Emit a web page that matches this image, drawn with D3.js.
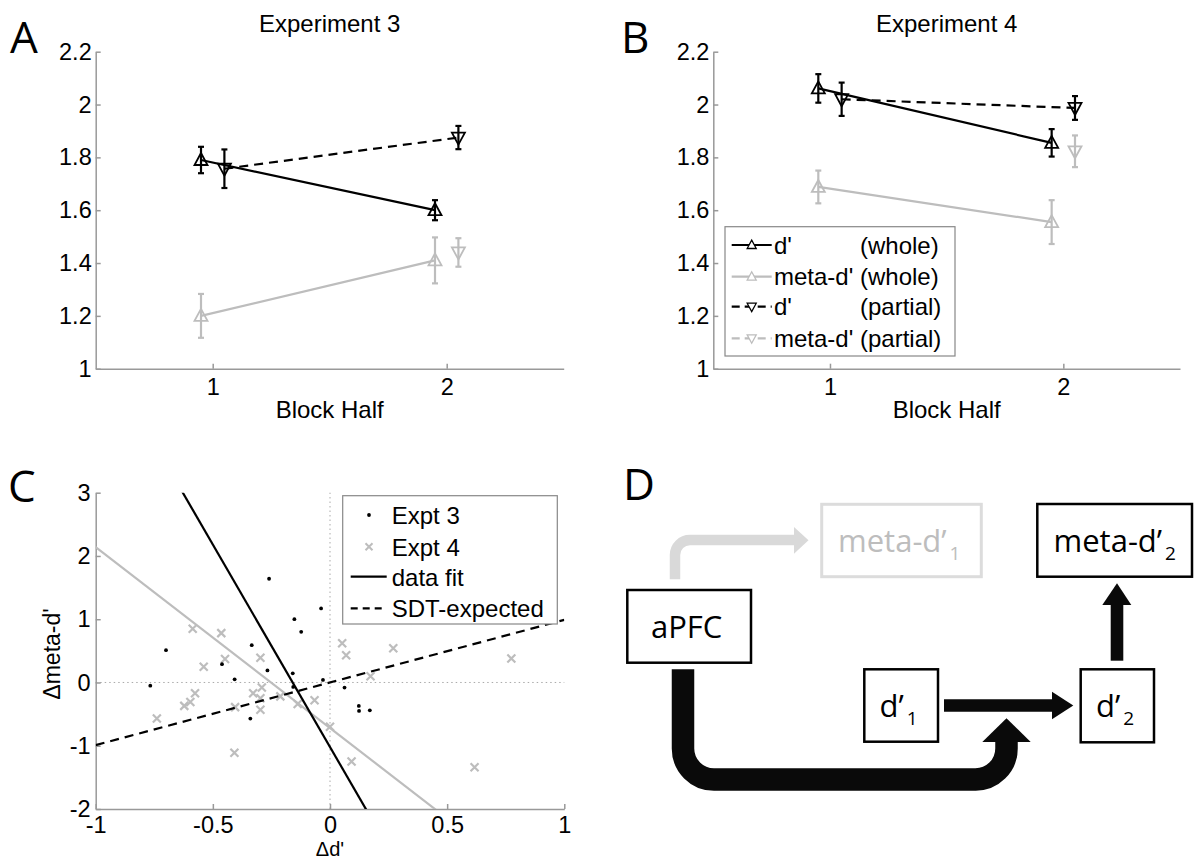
<!DOCTYPE html>
<html>
<head>
<meta charset="utf-8">
<script src="https://cdn.jsdelivr.net/npm/d3@7"></script>
<style>
  html, body { margin: 0; padding: 0; background: #fff; }
  svg { display: block; }
  .ax text { font-family: "Liberation Sans", Arial, sans-serif; font-size: 23.5px; fill: #000; }
  .ax path, .ax line { stroke: #999; stroke-width: 1.5; }
</style>
</head>
<body>
<script>
// ---------- Panels A & B: d' and meta-d' by block half ----------
const blockHalves = [1, 2];
const blockTicks = [1, 2];
const dprimeTicks = [1, 1.2, 1.4, 1.6, 1.8, 2, 2.2];

// Experiment 3
const exp3DWhole = [1.79, 1.60];
const exp3DWholeSE = [0.05, 0.038];
const exp3MetaWhole = [1.20, 1.41];
const exp3MetaWholeSE = [0.083, 0.087];
const exp3DPartial = [1.757, 1.875];
const exp3DPartialSE = [0.073, 0.044];
const exp3MetaPartial = [null, 1.44];
const exp3MetaPartialSE = [null, 0.054];

// Experiment 4
const exp4DWhole = [2.061, 1.855];
const exp4DWholeSE = [0.054, 0.052];
const exp4MetaWhole = [1.688, 1.555];
const exp4MetaWholeSE = [0.062, 0.083];
const exp4DPartial = [2.02, 1.987];
const exp4DPartialSE = [0.063, 0.045];
const exp4MetaPartial = [null, 1.823];
const exp4MetaPartialSE = [null, 0.06];

const legendNamesB = ["d'", "meta-d'", "d'", "meta-d'"];
const legendConditionsB = ["(whole)", "(whole)", "(partial)", "(partial)"];

// ---------- Panel C: change in d' vs change in meta-d' ----------
const cTicksX = [-1, -0.5, 0, 0.5, 1];
const cTicksY = [-2, -1, 0, 1, 2, 3];
const expt3DeltaD    = [-0.767, -0.70, -0.461, -0.407, -0.334, -0.34, -0.267, -0.26, -0.159, -0.157, -0.152, -0.123, -0.038, -0.03, 0.062, 0.123, 0.124, 0.17];
const expt3DeltaMeta = [-0.05, 0.51, 0.29, 0.05, 0.59, -0.57, 0.19, 1.64, 0.145, -0.07, 1.00, 0.80, 1.17, 0.04, -0.08, -0.37, -0.45, -0.44];
const expt4DeltaD    = [-0.739, -0.622, -0.596, -0.576, -0.586, -0.539, -0.464, -0.448, -0.405, -0.408, -0.328, -0.297, -0.291, -0.297, -0.297, -0.212, -0.138, -0.066, 0.0, 0.052, 0.069, 0.27, 0.173, 0.774, 0.092, 0.617];
const expt4DeltaMeta = [-0.57, -0.37, -0.31, -0.17, 0.85, 0.25, 0.78, 0.37, -0.39, -1.11, -0.17, 0.39, -0.08, -0.25, -0.43, -0.22, -0.34, -0.28, -0.70, 0.62, 0.43, 0.54, 0.10, 0.38, -1.25, -1.34];
// regression lines: [intercept, slope]
const fitExpt3 = [-1.02, -6.4];
const fitExpt4 = [-0.72, -2.86];
const sdtExpected = [0.0, 0.99];
const legendLabelsC = ["Expt 3", "Expt 4", "data fit", "SDT-expected"];

// ---------- Panel D: schematic ----------
const nodeMain = ["aPFC", "meta-d’", "meta-d’", "d’", "d’"];
const nodeSub  = ["", "1", "2", "1", "2"];

const BLACK = "#000";
const GRAY = "#bdbdbd";
const AXIS_FONT = '"Liberation Sans", Arial, sans-serif';
const DIAG_FONT = '"Open Sans", "Noto Sans", sans-serif';
const LABEL_SIZE = 24;

const svg = d3.select("body").append("svg")
  .attr("width", 1194).attr("height", 860)
  .attr("viewBox", "0 0 1194 860");
svg.append("rect").attr("width", 1194).attr("height", 860).attr("fill", "#fff");

// panel letters
const panelLetters = [["A", 10, 53], ["B", 621, 53], ["C", 8, 502], ["D", 623, 500]];
svg.selectAll("text.panel-letter").data(panelLetters).join("text")
  .attr("class", "panel-letter")
  .attr("x", d => d[1]).attr("y", d => d[2])
  .attr("font-family", DIAG_FONT).attr("font-size", 44)
  .text(d => d[0]);

const upTri = "M0,-7L6.5,5L-6.5,5Z";
const downTri = "M0,7L6.5,-5L-6.5,-5Z";

function styleAxis(g) {
  g.attr("class", "ax");
  g.selectAll("text").attr("font-family", AXIS_FONT);
}

function drawBlockPanel(opts) {
  const g = svg.append("g");
  const x = d3.scaleLinear().domain([0.5, 2.5]).range([opts.left, opts.right]);
  const y = d3.scaleLinear().domain([1, 2.2]).range([368.7, 51.7]);

  g.append("g").attr("transform", `translate(0,${y(1)})`)
    .call(d3.axisBottom(x).tickValues(blockTicks).tickFormat(d => String(d))
      .tickSizeInner(-5).tickSizeOuter(0).tickPadding(10))
    .call(styleAxis);
  g.append("g").attr("transform", `translate(${x(0.5)},0)`)
    .call(d3.axisLeft(y).tickValues(dprimeTicks).tickFormat(d => String(d))
      .tickSizeInner(-5).tickSizeOuter(0).tickPadding(4))
    .call(styleAxis);

  g.append("text").attr("x", (opts.left + opts.right) / 2).attr("y", 32)
    .attr("text-anchor", "middle").attr("font-family", AXIS_FONT).attr("font-size", LABEL_SIZE)
    .text(opts.title);
  g.append("text").attr("x", (opts.left + opts.right) / 2).attr("y", 418)
    .attr("text-anchor", "middle").attr("font-family", AXIS_FONT).attr("font-size", LABEL_SIZE)
    .text("Block Half");

  opts.series.forEach(s => {
    const pts = blockHalves.map((b, i) => ({ b: b + s.offset, v: s.values[i], e: s.errors[i] }))
      .filter(p => p.v != null);
    const line = d3.line().x(p => x(p.b)).y(p => y(p.v));
    g.append("path").attr("d", line(pts)).attr("fill", "none")
      .attr("stroke", s.color).attr("stroke-width", 2.2)
      .attr("stroke-dasharray", s.dashed ? "9,6" : null);
    const eb = g.append("g").selectAll("g").data(pts).join("g");
    eb.append("line").attr("x1", p => x(p.b)).attr("x2", p => x(p.b))
      .attr("y1", p => y(p.v - p.e)).attr("y2", p => y(p.v + p.e))
      .attr("stroke", s.color).attr("stroke-width", 2.2);
    [-1, 1].forEach(sign => {
      eb.append("line").attr("x1", p => x(p.b) - 3).attr("x2", p => x(p.b) + 3)
        .attr("y1", p => y(p.v + sign * p.e)).attr("y2", p => y(p.v + sign * p.e))
        .attr("stroke", s.color).attr("stroke-width", 2.2);
    });
    eb.append("path").attr("d", s.up ? upTri : downTri)
      .attr("transform", p => `translate(${x(p.b)},${y(p.v)})`)
      .attr("fill", "none").attr("stroke", s.color).attr("stroke-width", 1.8);
  });
  return { x, y, g };
}

function seriesFor(dw, dwe, mw, mwe, dp, dpe, mp, mpe) {
  return [
    { values: mw, errors: mwe, offset: -0.05, color: GRAY, dashed: false, up: true },
    { values: mp, errors: mpe, offset: 0.05, color: GRAY, dashed: true, up: false },
    { values: dp, errors: dpe, offset: 0.05, color: BLACK, dashed: true, up: false },
    { values: dw, errors: dwe, offset: -0.05, color: BLACK, dashed: false, up: true }
  ];
}

drawBlockPanel({
  left: 95.7, right: 563.7, title: "Experiment 3",
  series: seriesFor(exp3DWhole, exp3DWholeSE, exp3MetaWhole, exp3MetaWholeSE,
                    exp3DPartial, exp3DPartialSE, exp3MetaPartial, exp3MetaPartialSE)
});
const panelB = drawBlockPanel({
  left: 713.3, right: 1180, title: "Experiment 4",
  series: seriesFor(exp4DWhole, exp4DWholeSE, exp4MetaWhole, exp4MetaWholeSE,
                    exp4DPartial, exp4DPartialSE, exp4MetaPartial, exp4MetaPartialSE)
});

// legend for panel B
(function () {
  const lg = panelB.g.append("g");
  lg.append("rect").attr("x", 725).attr("y", 226.7).attr("width", 230).attr("height", 129.3)
    .attr("fill", "#fff").attr("stroke", "#888").attr("stroke-width", 1.2);
  const rowY = [245, 276.7, 306.7, 338.3];
  const styles = [
    { color: BLACK, dashed: false, up: true },
    { color: GRAY, dashed: false, up: true },
    { color: BLACK, dashed: true, up: false },
    { color: GRAY, dashed: true, up: false }
  ];
  legendNamesB.forEach((name, i) => {
    const st = styles[i];
    lg.append("line").attr("x1", 731.7).attr("x2", 771.7).attr("y1", rowY[i]).attr("y2", rowY[i])
      .attr("stroke", st.color).attr("stroke-width", 2.2)
      .attr("stroke-dasharray", st.dashed ? "8,5" : null);
    lg.append("path").attr("d", st.up ? upTri : downTri)
      .attr("transform", `translate(751.7,${rowY[i]}) scale(0.7)`)
      .attr("fill", "#fff").attr("stroke", st.color).attr("stroke-width", 1.8);
    lg.append("text").attr("x", 774).attr("y", rowY[i] + 8.5)
      .attr("font-family", AXIS_FONT).attr("font-size", LABEL_SIZE).text(name);
    lg.append("text").attr("x", 860).attr("y", rowY[i] + 8.5)
      .attr("font-family", AXIS_FONT).attr("font-size", LABEL_SIZE).text(legendConditionsB[i]);
  });
})();

// ---------- Panel C ----------
(function () {
  const g = svg.append("g");
  const x = d3.scaleLinear().domain([-1, 1]).range([95.7, 564.3]);
  const y = d3.scaleLinear().domain([-2, 3]).range([809, 492.7]);

  g.append("defs").append("clipPath").attr("id", "clipC")
    .append("rect").attr("x", x(-1)).attr("y", y(3))
    .attr("width", x(1) - x(-1)).attr("height", y(-2) - y(3));

  // zero reference lines
  g.append("line").attr("x1", x(-1)).attr("x2", x(1)).attr("y1", y(0)).attr("y2", y(0))
    .attr("stroke", "#aaa").attr("stroke-width", 1).attr("stroke-dasharray", "1.5,3");
  g.append("line").attr("x1", x(0)).attr("x2", x(0)).attr("y1", y(-2)).attr("y2", y(3))
    .attr("stroke", "#aaa").attr("stroke-width", 1).attr("stroke-dasharray", "1.5,3");

  g.append("g").attr("transform", `translate(0,${y(-2)})`)
    .call(d3.axisBottom(x).tickValues(cTicksX).tickFormat(d => String(d))
      .tickSizeInner(-5).tickSizeOuter(0).tickPadding(7))
    .call(styleAxis);
  g.append("g").attr("transform", `translate(${x(-1)},0)`)
    .call(d3.axisLeft(y).tickValues(cTicksY).tickFormat(d => String(d))
      .tickSizeInner(-5).tickSizeOuter(0).tickPadding(5))
    .call(styleAxis);

  g.append("text").attr("transform", `translate(60,654) rotate(-90)`)
    .attr("text-anchor", "middle").attr("font-family", AXIS_FONT).attr("font-size", 23)
    .text("Δmeta-d'");
  g.append("text").attr("x", x(0)).attr("y", 856)
    .attr("text-anchor", "middle").attr("font-family", AXIS_FONT).attr("font-size", 20)
    .text("Δd'");

  // Expt 4 crosses
  const c4 = expt4DeltaD.map((d, i) => [d, expt4DeltaMeta[i]]);
  g.append("g").selectAll("path").data(c4).join("path")
    .attr("d", "M-4,-4L4,4M-4,4L4,-4")
    .attr("transform", d => `translate(${x(d[0])},${y(d[1])})`)
    .attr("stroke", GRAY).attr("stroke-width", 2.2).attr("fill", "none");
  // Expt 3 dots
  const c3 = expt3DeltaD.map((d, i) => [d, expt3DeltaMeta[i]]);
  g.append("g").selectAll("circle").data(c3).join("circle")
    .attr("cx", d => x(d[0])).attr("cy", d => y(d[1])).attr("r", 1.9).attr("fill", BLACK);

  // fitted and expected lines
  const lineFn = d3.line().x(d => x(d[0])).y(d => y(d[1]));
  const lineData = (p) => [[-1, p[0] - p[1]], [1, p[0] + p[1]]];
  const lines = g.append("g").attr("clip-path", "url(#clipC)");
  lines.append("path").attr("d", lineFn(lineData(fitExpt4)))
    .attr("stroke", GRAY).attr("stroke-width", 2.2).attr("fill", "none");
  lines.append("path").attr("d", lineFn(lineData(fitExpt3)))
    .attr("stroke", BLACK).attr("stroke-width", 2.2).attr("fill", "none");
  lines.append("path").attr("d", lineFn(lineData(sdtExpected)))
    .attr("stroke", BLACK).attr("stroke-width", 2.2).attr("fill", "none")
    .attr("stroke-dasharray", "9,6");

  // legend
  const lg = g.append("g");
  lg.append("rect").attr("x", 342.7).attr("y", 495.7).attr("width", 214.6).attr("height", 128.3)
    .attr("fill", "#fff").attr("stroke", "#888").attr("stroke-width", 1.2);
  const rowY = [515, 546.7, 576.7, 608.3];
  lg.append("circle").attr("cx", 369).attr("cy", rowY[0]).attr("r", 1.9).attr("fill", BLACK);
  lg.append("path").attr("d", "M-3.5,-3.5L3.5,3.5M-3.5,3.5L3.5,-3.5")
    .attr("transform", `translate(369,${rowY[1]})`)
    .attr("stroke", GRAY).attr("stroke-width", 2).attr("fill", "none");
  lg.append("line").attr("x1", 350.7).attr("x2", 386.7).attr("y1", rowY[2]).attr("y2", rowY[2])
    .attr("stroke", BLACK).attr("stroke-width", 2.2);
  lg.append("line").attr("x1", 350.7).attr("x2", 386.7).attr("y1", rowY[3]).attr("y2", rowY[3])
    .attr("stroke", BLACK).attr("stroke-width", 2.2).attr("stroke-dasharray", "7,5");
  legendLabelsC.forEach((t, i) => {
    lg.append("text").attr("x", 391.7).attr("y", rowY[i] + 9)
      .attr("font-family", AXIS_FONT).attr("font-size", LABEL_SIZE).text(t);
  });
})();

// ---------- Panel D ----------
(function () {
  const g = svg.append("g");
  // box layout: [x0, y0, x1, y1], label start x, baseline y, colour
  const boxes = [
    { r: [627.3, 590, 751, 662.7], tx: 651, ty: 638.3, col: BLACK, text: BLACK, sw: 2.5 },
    { r: [821.7, 504.3, 981.3, 576.7], tx: 838, ty: 551.7, col: "#dcdcdc", text: "#bdbdbd", sw: 3 },
    { r: [1037.3, 504, 1192, 576.7], tx: 1053.5, ty: 551.7, col: BLACK, text: BLACK, sw: 2.5 },
    { r: [864.3, 669.3, 938, 741.7], tx: 879.5, ty: 716.7, col: BLACK, text: BLACK, sw: 2.5 },
    { r: [1080.7, 669.3, 1154, 742.3], tx: 1096, ty: 716.7, col: BLACK, text: BLACK, sw: 2.5 }
  ];

  // grey arrow: aPFC -> meta-d'1
  g.append("path").attr("d", "M675,579.3V555A15,15 0 0 1 690,540H795")
    .attr("fill", "none").attr("stroke", "#d9d9d9").attr("stroke-width", 10.5);
  g.append("path").attr("d", "M794,527L808.5,540.3L794,553.7Z").attr("fill", "#d9d9d9");

  // thick black arrow: aPFC -> d'1/d'2 junction
  g.append("path").attr("d", "M683,669.3V748.5A31,31 0 0 0 714,779.5H975A31,31 0 0 0 1006.5,748.5V741")
    .attr("fill", "none").attr("stroke", "#0a0a0a").attr("stroke-width", 22.5);
  g.append("path").attr("d", "M982.3,742L1006.5,718.3L1030.7,742Z").attr("fill", "#0a0a0a");

  // d'1 -> d'2
  g.append("path").attr("d", "M944,705.5H1053")
    .attr("stroke", "#0a0a0a").attr("stroke-width", 12.4);
  g.append("path").attr("d", "M1052,691.7L1073.3,705.5L1052,719.3Z").attr("fill", "#0a0a0a");

  // d'2 -> meta-d'2
  g.append("path").attr("d", "M1117,660.7V604")
    .attr("stroke", "#0a0a0a").attr("stroke-width", 12.6);
  g.append("path").attr("d", "M1102.3,605L1117,583.3L1131.3,605Z").attr("fill", "#0a0a0a");

  boxes.forEach((b, i) => {
    g.append("rect").attr("x", b.r[0]).attr("y", b.r[1])
      .attr("width", b.r[2] - b.r[0]).attr("height", b.r[3] - b.r[1])
      .attr("fill", "#fff").attr("stroke", b.col).attr("stroke-width", b.sw);
    const t = g.append("text").attr("x", b.tx).attr("y", b.ty)
      .attr("font-family", DIAG_FONT).attr("font-size", 31).attr("fill", b.text)
      .text(nodeMain[i]);
    if (nodeSub[i]) {
      t.append("tspan").attr("dx", 3).attr("dy", 8.5).attr("font-size", 19).text(nodeSub[i]);
    }
  });
})();
</script>
</body>
</html>
